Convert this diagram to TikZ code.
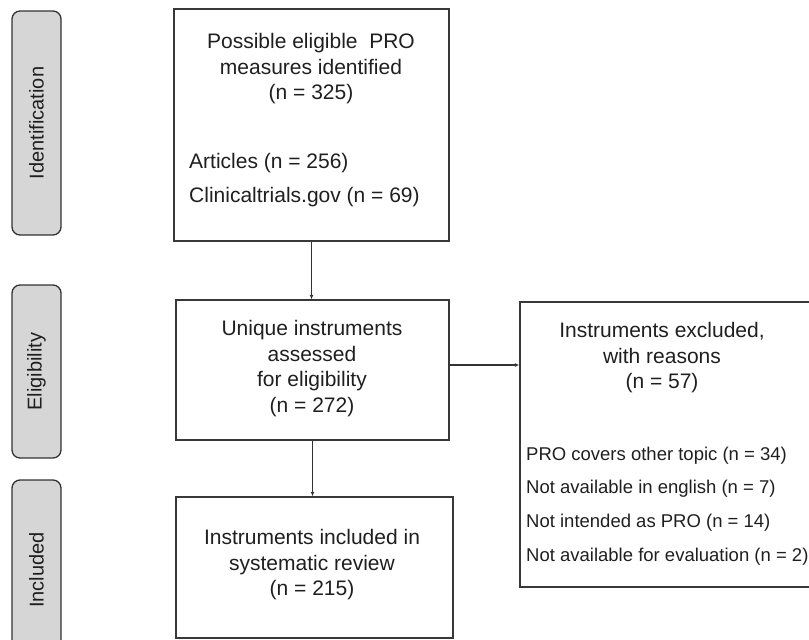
\documentclass[tikz,border=0pt]{standalone}
\usepackage{fontspec}
\setmainfont{Liberation Sans}
\usetikzlibrary{arrows.meta,positioning}

\begin{document}
\begin{tikzpicture}[x=1pt, y=-1pt, every node/.style={text=black!88},
    box/.style={draw=black!78, line width=1.4pt, inner sep=0pt},
    tab/.style={draw=black!80, line width=1.3pt, fill=black!16, rounded corners=8pt,
      inner sep=0pt, minimum height=49pt, font=\fontsize{20}{24}\selectfont},
    head/.style={align=center, inner sep=0pt, font=\fontsize{21}{25.5}\selectfont},
    items/.style={align=left, inner sep=0pt},
    link/.style={draw=black!80, line width=1.2pt, -{Latex[length=4.5pt,width=4pt]}}]
    \useasboundingbox (0,0) rectangle (809,640);

    % stage tabs
    \node[tab, rotate=90, minimum width=224pt] (tabident) at (36.5,123) {Identification};
    \node[tab, rotate=90, minimum width=173pt] (tabelig) at (36.5,371.5) {Eligibility};
    \node[tab, rotate=90, minimum width=180pt] (tabincl) at (36.5,570) {Included};

    % boxes
    \node[box, minimum width=275pt, minimum height=232pt] (ident) at (311.5,125) {};
    \node[box, minimum width=273pt, minimum height=140pt] (elig) at (312.5,370) {};
    \node[box, minimum width=277pt, minimum height=141pt] (incl) at (314.5,567.5) {};
    \node[box, minimum width=295pt, minimum height=285pt] (excl) at (667.5,444.5) {};

    % texts
    \node[head] (identhead) at (311,69) {Possible eligible\ \ PRO\\measures identified\\(n = 325)};
    \node[items, anchor=west, font=\fontsize{21}{34}\selectfont] (identlist) at (189,180)
      {Articles (n = 256)\\Clinicaltrials.gov (n = 69)};
    \node[head] (elighead) at (312,368.5) {Unique instruments\\assessed\\for eligibility\\(n = 272)};
    \node[head] (inclhead) at (312,565) {Instruments included in\\systematic review\\(n = 215)};
    \node[head] (exclhead) at (662,358) {Instruments excluded,\\with reasons\\(n = 57)};
    \node[items, anchor=west, font=\fontsize{18.5}{33.8}\selectfont] (excllist) at (526,506)
      {PRO covers other topic (n = 34)\\Not available in english (n = 7)\\
       Not intended as PRO (n = 14)\\Not available for evaluation (n = 2)};

    % connectors
    \draw[link] (ident.south) -- (ident.south |- elig.north);
    \draw[link] (elig.south) -- (elig.south |- incl.north);
    \draw[link] ([yshift=5pt]elig.east) -- ([yshift=5pt]elig.east -| excl.west);
\end{tikzpicture}
\end{document}
